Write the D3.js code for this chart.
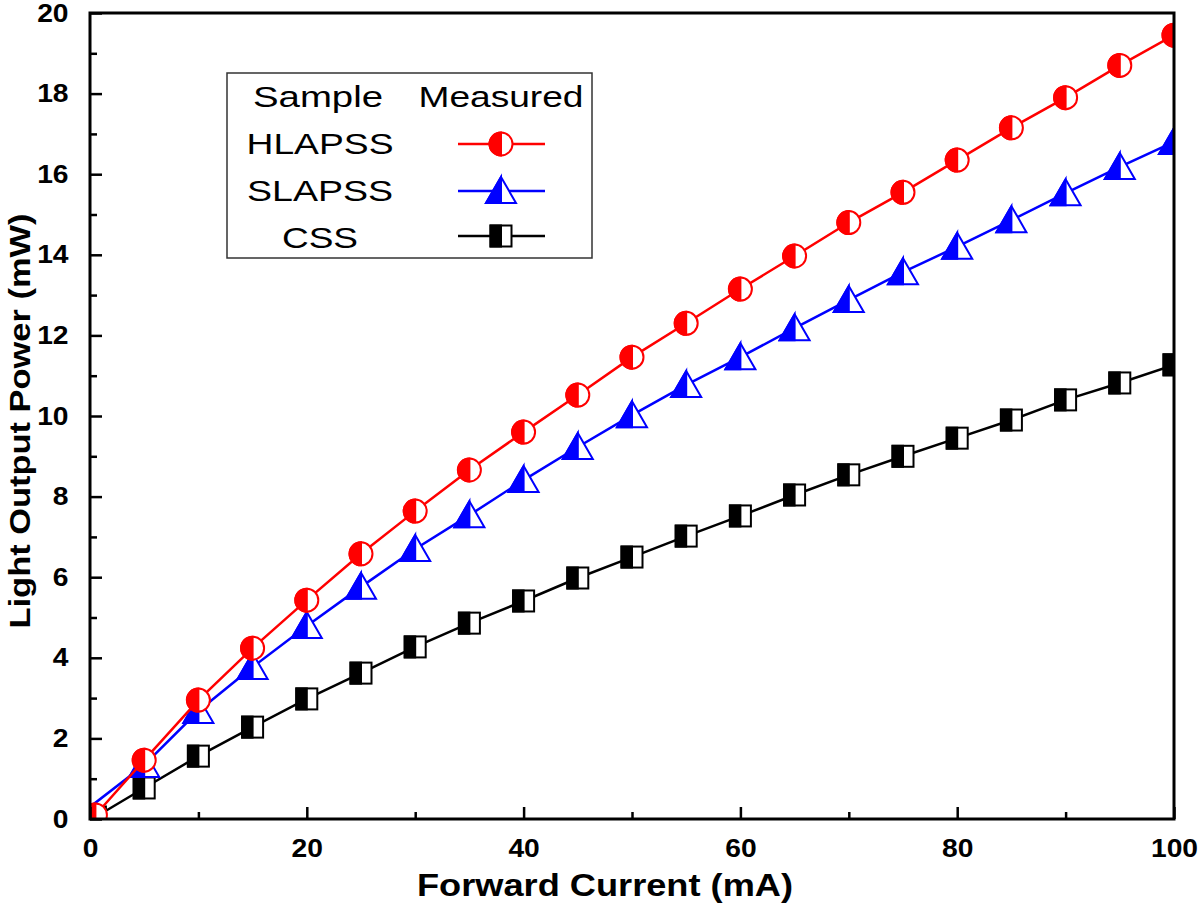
<!DOCTYPE html>
<html>
<head>
<meta charset="utf-8">
<script src="https://cdn.jsdelivr.net/npm/d3@7"></script>
<style>
  body { margin: 0; background: #fff; }
  svg { display: block; }
  text { font-family: "Liberation Sans", Arial, sans-serif; }
</style>
</head>
<body>
<svg id="chart" width="1200" height="907"></svg>
<script>
// ---- data ----
const currentHL = [0.5, 5, 10, 15, 20, 25, 30, 35, 40, 45, 50, 55, 60, 65, 70, 75, 80, 85, 90, 95, 100];
const currentSL = [0, 5, 10, 15, 20, 25, 30, 35, 40, 45, 50, 55, 60, 65, 70, 75, 80, 85, 90, 95, 100];
const currentCS = [0.5, 5, 10, 15, 20, 25, 30, 35, 40, 45, 50, 55, 60, 65, 70, 75, 80, 85, 90, 95, 100];
const hlapss = [0.1, 1.46, 2.95, 4.24, 5.43, 6.58, 7.64, 8.66, 9.6, 10.52, 11.46, 12.3, 13.15, 13.97, 14.8, 15.55, 16.35, 17.15, 17.9, 18.7, 19.45];
const slapss = [0.3, 1.34, 2.68, 3.77, 4.79, 5.76, 6.7, 7.54, 8.41, 9.23, 10.02, 10.77, 11.46, 12.18, 12.88, 13.57, 14.2, 14.86, 15.53, 16.18, 16.8];
const css    = [0.05, 0.77, 1.56, 2.28, 2.98, 3.62, 4.27, 4.86, 5.41, 5.98, 6.5, 7.02, 7.52, 8.04, 8.54, 9.0, 9.45, 9.9, 10.4, 10.82, 11.27];
const xMajorTicks = [0, 20, 40, 60, 80, 100];
const xMinorTicks = [10, 30, 50, 70, 90];
const yMajorTicks = [0, 2, 4, 6, 8, 10, 12, 14, 16, 18, 20];
const yMinorTicks = [1, 3, 5, 7, 9, 11, 13, 15, 17, 19];
const seriesNames = ["HLAPSS", "SLAPSS", "CSS"];

// ---- layout ----
const L = 90, R = 1174, T = 13, B = 819;
const svg = d3.select("#chart");
const x = d3.scaleLinear().domain([0, 100]).range([L, R]);
const y = d3.scaleLinear().domain([0, 20]).range([B, T]);

const series = [
  { name: "CSS", xs: currentCS, ys: css, color: "#000000", shape: "square" },
  { name: "SLAPSS", xs: currentSL, ys: slapss, color: "#0000ff", shape: "triangle" },
  { name: "HLAPSS", xs: currentHL, ys: hlapss, color: "#ff0000", shape: "circle" }
];

svg.append("defs").append("clipPath").attr("id", "plotclip")
  .append("rect").attr("x", L).attr("y", T).attr("width", R - L).attr("height", B - T);

function drawMarker(g, shape, cx, cy, color) {
  if (shape === "circle") {
    const r = 11.5;
    g.append("circle").attr("cx", cx).attr("cy", cy).attr("r", r)
      .attr("fill", "#fff").attr("stroke", color).attr("stroke-width", 2);
    g.append("path").attr("d", `M${cx},${cy - r} A${r},${r} 0 0 0 ${cx},${cy + r} Z`)
      .attr("fill", color).attr("stroke", color).attr("stroke-width", 2);
  } else if (shape === "triangle") {
    const hw = 15, up = 14, dn = 12;
    g.append("path").attr("d", `M${cx},${cy - up} L${cx + hw},${cy + dn} L${cx - hw},${cy + dn} Z`)
      .attr("fill", "#fff").attr("stroke", color).attr("stroke-width", 2).attr("stroke-linejoin", "miter");
    g.append("path").attr("d", `M${cx},${cy - up} L${cx},${cy + dn} L${cx - hw},${cy + dn} Z`)
      .attr("fill", color).attr("stroke", color).attr("stroke-width", 2);
  } else {
    const h = 10.5;
    g.append("rect").attr("x", cx - h).attr("y", cy - h).attr("width", 2 * h).attr("height", 2 * h)
      .attr("fill", "#fff").attr("stroke", color).attr("stroke-width", 2);
    g.append("rect").attr("x", cx - h).attr("y", cy - h).attr("width", h).attr("height", 2 * h)
      .attr("fill", color).attr("stroke", color).attr("stroke-width", 2);
  }
}

const plot = svg.append("g").attr("clip-path", "url(#plotclip)");
series.forEach(s => {
  const pts = s.xs.map((v, i) => [v, s.ys[i]]);
  plot.append("path")
    .datum(pts)
    .attr("fill", "none")
    .attr("stroke", s.color)
    .attr("stroke-width", 2.5)
    .attr("d", d3.line().x(d => x(d[0])).y(d => y(d[1])));
  const mg = plot.append("g");
  pts.forEach(p => { if (p[0] > 0.3) drawMarker(mg, s.shape, x(p[0]), y(p[1]), s.color); });
});

// ---- axes ----
function styleAxis(g) {
  g.select(".domain").remove();
  g.selectAll(".tick line").attr("stroke", "#000").attr("stroke-width", 2.5);
}
const xAxis = svg.append("g").attr("transform", `translate(0,${B})`)
  .call(d3.axisBottom(x).tickValues(xMajorTicks).tickSize(-12).tickPadding(20).tickFormat(d3.format("d")));
styleAxis(xAxis);
xAxis.selectAll(".tick text").attr("font-size", 25).attr("font-weight", "bold").attr("fill", "#000")
  .attr("font-family", "Liberation Sans, Arial, sans-serif").attr("transform", "scale(1.13,1)");
const xMinor = svg.append("g").attr("transform", `translate(0,${B})`)
  .call(d3.axisBottom(x).tickValues(xMinorTicks).tickSize(-7).tickFormat(""));
styleAxis(xMinor);

const yAxis = svg.append("g").attr("transform", `translate(${L},0)`)
  .call(d3.axisLeft(y).tickValues(yMajorTicks).tickSize(-12).tickPadding(19).tickFormat(d3.format("d")));
styleAxis(yAxis);
yAxis.selectAll(".tick text").attr("font-size", 25).attr("font-weight", "bold").attr("fill", "#000")
  .attr("font-family", "Liberation Sans, Arial, sans-serif").attr("transform", "scale(1.13,1)");
const yMinor = svg.append("g").attr("transform", `translate(${L},0)`)
  .call(d3.axisLeft(y).tickValues(yMinorTicks).tickSize(-7).tickFormat(""));
styleAxis(yMinor);

svg.append("rect").attr("x", L).attr("y", T).attr("width", R - L).attr("height", B - T)
  .attr("fill", "none").attr("stroke", "#000").attr("stroke-width", 3);

// ---- axis titles ----
svg.append("text").attr("x", 605).attr("y", 896).attr("text-anchor", "middle")
  .attr("font-size", 32).attr("font-weight", "bold")
  .attr("textLength", 376).attr("lengthAdjust", "spacingAndGlyphs")
  .text("Forward Current (mA)");
svg.append("text").attr("transform", "translate(30,421) rotate(-90)").attr("text-anchor", "middle")
  .attr("font-size", 30).attr("font-weight", "bold")
  .attr("textLength", 415).attr("lengthAdjust", "spacingAndGlyphs")
  .text("Light Output Power (mW)");

// ---- legend ----
const lg = svg.append("g");
lg.append("rect").attr("x", 227).attr("y", 73).attr("width", 365).attr("height", 185)
  .attr("fill", "#fff").attr("stroke", "#333").attr("stroke-width", 1.5);
lg.append("text").attr("x", 318).attr("y", 107).attr("text-anchor", "middle").attr("font-size", 30)
  .attr("textLength", 130).attr("lengthAdjust", "spacingAndGlyphs").text("Sample");
lg.append("text").attr("x", 501).attr("y", 107).attr("text-anchor", "middle").attr("font-size", 30)
  .attr("textLength", 165).attr("lengthAdjust", "spacingAndGlyphs").text("Measured");
const legendRows = [
  { name: seriesNames[0], shape: "circle", color: "#ff0000", ty: 154, ly: 144, tw: 147 },
  { name: seriesNames[1], shape: "triangle", color: "#0000ff", ty: 201, ly: 191, tw: 146 },
  { name: seriesNames[2], shape: "square", color: "#000000", ty: 248, ly: 236, tw: 76 }
];
legendRows.forEach(r => {
  lg.append("text").attr("x", 320).attr("y", r.ty).attr("text-anchor", "middle").attr("font-size", 30)
    .attr("textLength", r.tw).attr("lengthAdjust", "spacingAndGlyphs").text(r.name);
  lg.append("line").attr("x1", 458).attr("x2", 545).attr("y1", r.ly).attr("y2", r.ly)
    .attr("stroke", r.color).attr("stroke-width", 2.5);
  drawMarker(lg, r.shape, 501, r.ly, r.color);
});
</script>
</body>
</html>
